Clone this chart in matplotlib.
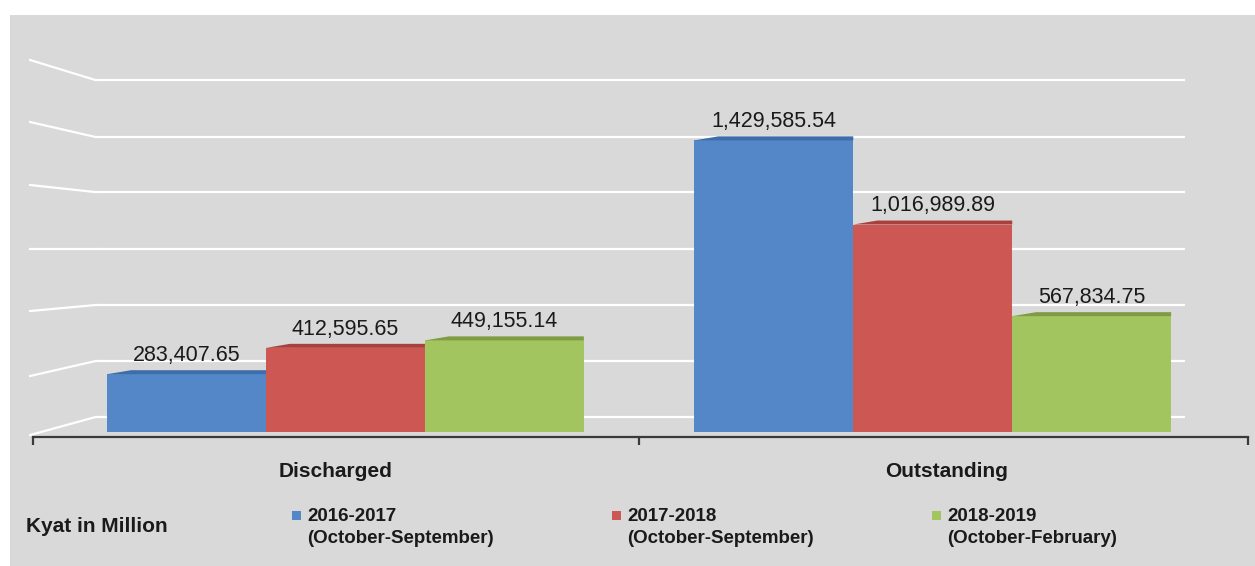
import numpy as np
import matplotlib
matplotlib.use("Agg")
import matplotlib.pyplot as plt
from matplotlib.patches import Rectangle, Polygon

plt.rcParams['font.family'] = ['Liberation Sans', 'DejaVu Sans']

categories = ["Discharged", "Outstanding"]
series_names = ["2016-2017", "2017-2018", "2018-2019"]
series_periods = ["(October-September)", "(October-September)", "(October-February)"]
values = [
    [283407.65, 1429585.54],
    [412595.65, 1016989.89],
    [449155.14, 567834.75],
]
unit_label = "Kyat in Million"

colors = ["#5387c8", "#cd5753", "#a3c560"]
top_colors = ["#3e6daa", "#a9403c", "#7f9c44"]
grid_levels = [73500, 348000, 622500, 897000, 1176000, 1446000, 1725000]
wall_levels = [1823500, 1519600, 1210800, 897000, 593000, 274500, -14700]

W, H = 1255, 566
fig = plt.figure(figsize=(W / 100, H / 100), dpi=100, facecolor="white")


def fx(px):
    return px / W


def fy(py):
    return 1 - py / H


# gray panel behind everything
fig.patches.append(Rectangle((fx(10), 0), 1 - fx(10), fy(15), transform=fig.transFigure,
                             facecolor="#d9d9d9", edgecolor="none", zorder=-5))

ax = fig.add_axes([fx(33), fy(437), fx(1248) - fx(33), (437 - 15) / H])
ax.set_facecolor("none")
ax.set_zorder(2)

px_per_unit = 204e-6
ybot = -5 / px_per_unit
ax.set_ylim(ybot, ybot + 422 / px_per_unit)
ax.set_xlim(-0.5321, 1.5368)

# back wall grid + slanted side wall
ax.hlines(grid_levels, -0.4255, 1.43, color="white", lw=1.6, zorder=1)
for yl, yg in zip(wall_levels, grid_levels[::-1]):
    ax.plot([-0.537, -0.4255], [yl, yg], color="white", lw=1.6, zorder=1, clip_on=False)

width = 0.2706
x = np.arange(len(categories))
dx = 24 / 587.25
dy = 4 / px_per_unit
for i, (vals, c, tc) in enumerate(zip(values, colors, top_colors)):
    pos = x + (i - 1) * width
    bars = ax.bar(pos, vals, width, color=c, edgecolor="none", zorder=2)
    for b, v in zip(bars, vals):
        x0, x1 = b.get_x(), b.get_x() + b.get_width()
        ax.add_patch(Polygon([(x0, v), (x0 + dx, v + dy), (x1, v + dy), (x1, v)],
                             closed=True, facecolor=tc, edgecolor="none", zorder=2))
        ax.annotate(f"{v:,.2f}", (b.get_x() + b.get_width() / 2, v), xytext=(0, 9.5),
                    textcoords="offset points", ha="center", va="baseline",
                    fontsize=15.5, color="#1a1a1a", zorder=3)

for s in ["top", "right", "left"]:
    ax.spines[s].set_visible(False)
ax.spines["bottom"].set_color("#3a3a3a")
ax.spines["bottom"].set_linewidth(1.6)
ax.set_yticks([])
ax.set_xticks(x, [""] * len(categories))
ax.tick_params(axis="x", length=0)
ax.set_xticks([-0.5321, 0.5, 1.5368], minor=True)
ax.tick_params(axis="x", which="minor", length=6, width=1.6, color="#3a3a3a", direction="out")

# category labels, slightly off the group centres as in the source
for xc, cat, shift in zip(x, categories, [-7, 10]):
    ax.annotate(cat, (xc, 0), xycoords=("data", "axes fraction"),
                xytext=(shift, -29), textcoords="offset points",
                ha="center", va="baseline", fontsize=15, fontweight="bold",
                color="#1a1a1a")

# legend row
fig.text(fx(26), fy(532), unit_label, fontsize=15, fontweight="bold",
         ha="left", va="baseline", color="#1a1a1a")
leg_x = [307, 627, 947]
for lx, name, period, c in zip(leg_x, series_names, series_periods, colors):
    fig.patches.append(Rectangle((fx(lx - 15), fy(520)), fx(9), 9 / H,
                                 transform=fig.transFigure, facecolor=c, edgecolor="none"))
    fig.text(fx(lx), fy(521), name, fontsize=13.5, fontweight="bold",
             ha="left", va="baseline", color="#1a1a1a")
    fig.text(fx(lx), fy(543), period, fontsize=13.5, fontweight="bold",
             ha="left", va="baseline", color="#1a1a1a")

fig.savefig("out.png", dpi=100, facecolor=fig.get_facecolor())
